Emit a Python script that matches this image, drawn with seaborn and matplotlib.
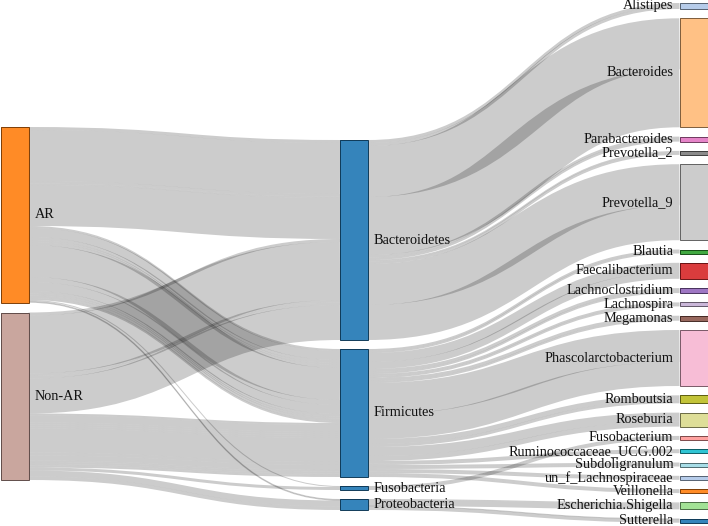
import numpy as np
import matplotlib
matplotlib.use("Agg")
import matplotlib.pyplot as plt
from matplotlib.path import Path
from matplotlib.patches import PathPatch, Rectangle
import seaborn as sns

# ---------------- data ----------------
groups = ["AR", "Non-AR"]
phyla = ["Bacteroidetes", "Firmicutes", "Fusobacteria", "Proteobacteria"]
genera = ["Alistipes", "Bacteroides", "Parabacteroides", "Prevotella_2", "Prevotella_9",
          "Blautia", "Faecalibacterium", "Lachnoclostridium", "Lachnospira", "Megamonas",
          "Phascolarctobacterium", "Romboutsia", "Roseburia", "Fusobacterium",
          "Ruminococcaceae_UCG.002", "Subdoligranulum", "un_f_Lachnospiraceae",
          "Veillonella", "Escherichia.Shigella", "Sutterella"]
genus_phylum = ["Bacteroidetes"] * 5 + ["Firmicutes"] * 8 + ["Fusobacteria"] + \
               ["Firmicutes"] * 4 + ["Proteobacteria"] * 2
ar_values = [3, 51, 2.5, 1.5, 41,
             2, 9, 3, 2, 3, 32, 5, 9, 1,
             2.5, 2, 2.5, 2, 1, 0.5]
nonar_values = [3, 58, 2.5, 2.5, 35,
                2, 7, 2, 2, 2, 24, 3, 5, 3,
                1.5, 2, 1.5, 2, 6, 3.5]

# node colours: indices into the category20 (tab20) palette
color_index = {"AR": 2, "Non-AR": 11,
               "Bacteroidetes": 0, "Firmicutes": 0, "Fusobacteria": 0, "Proteobacteria": 0,
               "Alistipes": 1, "Bacteroides": 3, "Parabacteroides": 12, "Prevotella_2": 14,
               "Prevotella_9": 15, "Blautia": 4, "Faecalibacterium": 6, "Lachnoclostridium": 8,
               "Lachnospira": 9, "Megamonas": 10, "Phascolarctobacterium": 13, "Romboutsia": 16,
               "Roseburia": 17, "Fusobacterium": 7, "Ruminococcaceae_UCG.002": 18,
               "Subdoligranulum": 19, "un_f_Lachnospiraceae": 1, "Veillonella": 2,
               "Escherichia.Shigella": 5, "Sutterella": 0}

# ---------------- style ----------------
sns.set_theme(style="white")
serif = ["Liberation Serif", "DejaVu Serif"]
plt.rcParams["font.family"] = serif
palette = sns.color_palette("tab20", 20)

W, H, DPI = 708, 526, 100
node_w = 28
col_x = [0.5, 340.0, 679.5]
col_top = [127.0, 140.0, 3.0]
col_pad = [10.0, 9.0, 9.3]
font_px = 14.2

# ---------------- build links ----------------
group_vals = {"AR": ar_values, "Non-AR": nonar_values}
links = []
for g in groups:
    for p in phyla:
        for i, gen in enumerate(genera):
            if genus_phylum[i] == p and group_vals[g][i] > 0:
                links.append({"s": g, "t": p, "v": group_vals[g][i]})
for p in phyla:
    for i, gen in enumerate(genera):
        if genus_phylum[i] != p:
            continue
        for g in groups:
            if group_vals[g][i] > 0:
                links.append({"s": p, "t": gen, "v": group_vals[g][i]})

columns = [groups, phyla, genera]
nodes = {}
for c, names in enumerate(columns):
    for n in names:
        nodes[n] = {"col": c, "src": [], "tgt": []}
for k, l in enumerate(links):
    nodes[l["s"]]["src"].append(k)
    nodes[l["t"]]["tgt"].append(k)
for n, d in nodes.items():
    d["value"] = max(sum(links[k]["v"] for k in d["src"]),
                     sum(links[k]["v"] for k in d["tgt"]))

# stack nodes in columns
for c, names in enumerate(columns):
    y = col_top[c]
    for n in names:
        nodes[n]["x"] = col_x[c]
        nodes[n]["y"] = y
        nodes[n]["dy"] = nodes[n]["value"]
        y += nodes[n]["value"] + col_pad[c]

# link offsets at source and target
for n, d in nodes.items():
    sy = 0.0
    for k in sorted(d["src"], key=lambda k: nodes[links[k]["t"]]["y"]):
        links[k]["sy"] = sy
        sy += links[k]["v"]
    ty = 0.0
    for k in sorted(d["tgt"], key=lambda k: nodes[links[k]["s"]]["y"]):
        links[k]["ty"] = ty
        ty += links[k]["v"]

# ---------------- draw ----------------
fig = plt.figure(figsize=(W / DPI, H / DPI), dpi=DPI)
ax = fig.add_axes([0, 0, 1, 1])
ax.set_xlim(0, W)
ax.set_ylim(H, 0)
ax.axis("off")

for l in links:
    s, t = nodes[l["s"]], nodes[l["t"]]
    x0 = s["x"] + node_w
    x1 = t["x"]
    xm = (x0 + x1) / 2
    y0 = s["y"] + l["sy"] + l["v"] / 2
    y1 = t["y"] + l["ty"] + l["v"] / 2
    path = Path([(x0, y0), (xm, y0), (xm, y1), (x1, y1)],
                [Path.MOVETO, Path.CURVE4, Path.CURVE4, Path.CURVE4])
    ax.add_patch(PathPatch(path, fill=False, edgecolor="black", alpha=0.2,
                           lw=max(1.0, l["v"]) * 72 / DPI, capstyle="butt", zorder=1))

for n, d in nodes.items():
    col = np.array(palette[color_index[n]])
    edge = col * 0.49
    ax.add_patch(Rectangle((d["x"], d["y"]), node_w, d["dy"], facecolor=col, alpha=0.9,
                           edgecolor="none", zorder=2))
    ax.add_patch(Rectangle((d["x"], d["y"]), node_w, d["dy"], facecolor="none",
                           edgecolor=edge, lw=0.7, zorder=3))
    cy = d["y"] + d["dy"] / 2
    if d["col"] < 2:
        ax.text(d["x"] + node_w + 6, cy, n, ha="left", va="center", family=serif,
                fontsize=font_px * 72 / DPI, color="#111111", zorder=4)
    else:
        ax.text(d["x"] - 6, cy, n, ha="right", va="center", family=serif,
                fontsize=font_px * 72 / DPI, color="#111111", zorder=4)

fig.savefig("out.png", dpi=DPI)
